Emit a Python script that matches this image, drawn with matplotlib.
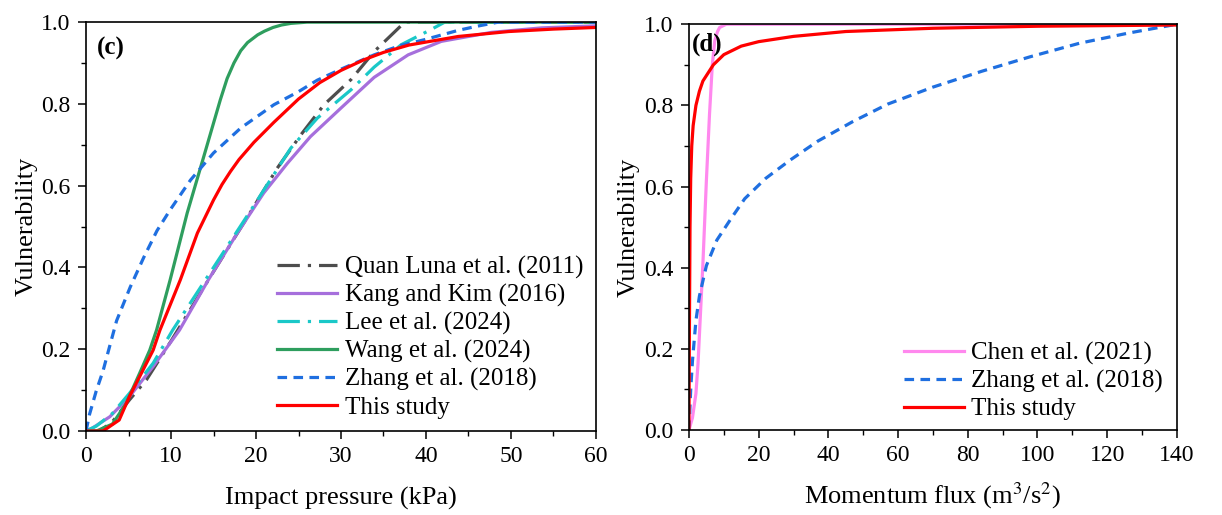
import matplotlib
matplotlib.use("Agg")
import matplotlib.pyplot as plt
from matplotlib.ticker import MultipleLocator

plt.rcParams["font.family"] = ["Liberation Serif", "DejaVu Serif"]
plt.rcParams["mathtext.fontset"] = "stix"

# ---- panel (c): vulnerability vs impact pressure (kPa) ----
quan_x = [0, 1.5, 3, 5.1, 7.1, 10, 15, 19.4, 22.5, 25.3, 28, 31.2, 33.9, 37.5, 60]
quan_v = [0, 0, 0.02, 0.076, 0.125, 0.22, 0.39, 0.537, 0.643, 0.725, 0.798, 0.86, 0.928, 1.0, 1.0]

kang_x = [0, 0.8, 2.8, 5.1, 7.9, 11, 14.4, 17.8, 20.9, 23.7, 26.4, 30, 33.9, 37.9, 41.8, 47.7, 53.6, 60]
kang_v = [0, 0.008, 0.035, 0.084, 0.158, 0.247, 0.37, 0.484, 0.582, 0.655, 0.72, 0.79, 0.865,
          0.92, 0.953, 0.975, 0.986, 0.991]

lee_x = [0, 1.2, 3.1, 5.1, 7.9, 10.2, 15, 19.8, 24.1, 27.2, 31.2, 33.9, 37.1, 40.6, 42.2, 60]
lee_v = [0, 0.012, 0.043, 0.092, 0.166, 0.247, 0.40, 0.553, 0.692, 0.765, 0.835, 0.89, 0.945,
         0.982, 1.0, 1.0]

wang_x = [0, 1.2, 3.1, 4.7, 6.3, 7.5, 8.3, 9.9, 11.9, 13.85, 15.8, 16.6, 17.4, 18.2, 19, 20.2,
          21, 22, 23, 24.1, 26, 60]
wang_v = [0, 0, 0.017, 0.067, 0.141, 0.198, 0.247, 0.37, 0.533, 0.671, 0.81, 0.862, 0.9, 0.93,
          0.95, 0.969, 0.978, 0.987, 0.993, 0.997, 1.0, 1.0]

zhang_c_x = [0, 0.4, 1.2, 2, 2.75, 3.6, 5.2, 6.8, 8.35, 9.9, 12.3, 15, 18.2, 22.1, 25, 27.2, 30,
             33.9, 37, 39.8, 43.8, 46, 48.5, 60]
zhang_c_v = [0, 0.04, 0.098, 0.147, 0.205, 0.27, 0.352, 0.425, 0.49, 0.541, 0.614, 0.68, 0.741,
             0.798, 0.83, 0.858, 0.885, 0.92, 0.943, 0.957, 0.98, 0.99, 1.0, 1.0]

this_c_x = [0, 2, 3.9, 5.1, 6.7, 7.9, 8.7, 11.1, 13.1, 15, 16, 17, 18, 19.75, 22.1, 25, 27.5, 30,
            32.7, 35, 38, 43.8, 49.7, 55, 60]
this_c_v = [0, 0, 0.027, 0.084, 0.149, 0.198, 0.247, 0.37, 0.484, 0.565, 0.603, 0.635, 0.664,
            0.706, 0.755, 0.812, 0.852, 0.882, 0.908, 0.926, 0.944, 0.965, 0.977, 0.983, 0.987]

# ---- panel (d): vulnerability vs momentum flux (m3/s2) ----
chen_x = [0, 1, 2, 2.6, 3.3, 4, 5, 5.9, 6.7, 7.4, 8.2, 8.8, 10.7, 140]
chen_v = [0, 0.03, 0.09, 0.164, 0.287, 0.41, 0.615, 0.779, 0.9, 0.959, 0.982, 0.992, 1.0, 1.0]

zhang_d_x = [0, 0.5, 1, 2, 3, 5, 8, 12, 16, 22, 29, 37, 47, 57, 70, 84, 98, 112, 126, 140]
zhang_d_v = [0, 0.1, 0.17, 0.27, 0.33, 0.405, 0.468, 0.52, 0.57, 0.62, 0.665, 0.712, 0.76, 0.803,
             0.845, 0.884, 0.92, 0.953, 0.978, 1.0]

this_d_x = [0, 0.05, 0.1, 0.2, 0.3, 0.5, 0.8, 1.2, 2, 3, 4, 5.5, 7, 10, 15, 20, 30, 45, 70, 100, 140]
this_d_v = [0, 0.1, 0.2, 0.35, 0.5, 0.62, 0.7, 0.75, 0.8, 0.835, 0.86, 0.88, 0.9, 0.925, 0.946,
            0.957, 0.97, 0.982, 0.99, 0.995, 0.998]

fig = plt.figure(figsize=(12.22, 5.15), dpi=100)
ax1 = fig.add_axes([0.0704, 0.163, 0.4173, 0.794])
ax2 = fig.add_axes([0.5638, 0.165, 0.3993, 0.788])

lw = 2.3
ax1.plot(quan_x, quan_v, color="#4d4d4d", lw=lw, dashes=(7, 2.5, 1, 2.5), label="Quan Luna et al. (2011)")
ax1.plot(kang_x, kang_v, color="#a66fdc", lw=lw, label="Kang and Kim (2016)")
ax1.plot(lee_x, lee_v, color="#1ac8c8", lw=lw, dashes=(7, 2.5, 1, 2.5), label="Lee et al. (2024)")
ax1.plot(wang_x, wang_v, color="#2e9e5e", lw=lw, label="Wang et al. (2024)")
ax1.plot(zhang_c_x, zhang_c_v, color="#1f6fe0", lw=lw, dashes=(3, 2), label="Zhang et al. (2018)")
ax1.plot(this_c_x, this_c_v, color="#ff0000", lw=lw, label="This study")

ax2.plot(chen_x, chen_v, color="#ff88ee", lw=lw, label="Chen et al. (2021)")
ax2.plot(zhang_d_x, zhang_d_v, color="#1f6fe0", lw=lw, dashes=(3, 2), label="Zhang et al. (2018)")
ax2.plot(this_d_x, this_d_v, color="#ff0000", lw=lw, label="This study")

ax1.set_xlim(0, 60)
ax1.xaxis.set_major_locator(MultipleLocator(10))
ax1.xaxis.set_minor_locator(MultipleLocator(5))
ax2.set_xlim(0, 140)
ax2.xaxis.set_major_locator(MultipleLocator(20))
ax2.xaxis.set_minor_locator(MultipleLocator(10))

for ax in (ax1, ax2):
    ax.set_ylim(0, 1.0)
    ax.yaxis.set_major_locator(MultipleLocator(0.2))
    ax.yaxis.set_minor_locator(MultipleLocator(0.1))
    ax.yaxis.set_major_formatter(plt.FormatStrFormatter("%.1f"))
    ax.tick_params(which="major", direction="out", length=6, width=1.1, labelsize=17, pad=5)
    ax.tick_params(which="minor", direction="out", length=3.5, width=1.0)
    for s in ax.spines.values():
        s.set_linewidth(1.2)
    ax.set_ylabel("Vulnerability", fontsize=19, labelpad=3)

ax1.legend(loc="lower right", frameon=False, fontsize=18, handlelength=2.4,
           handletextpad=0.3, labelspacing=0.2, borderaxespad=0.1)
ax2.legend(loc="lower right", frameon=False, fontsize=18, handlelength=2.4,
           handletextpad=0.3, labelspacing=0.2, borderaxespad=0.15,
           bbox_to_anchor=(1.0, -0.01))

ax1.set_xlabel("Impact pressure (kPa)", fontsize=19, labelpad=14)
ax2.set_xlabel("Momentum flux (m$^3$/s$^2$)", fontsize=19, labelpad=10)

ax1.text(0.022, 0.935, "(c)", transform=ax1.transAxes, fontsize=18, fontweight="bold",
         ha="left", va="center")
ax2.text(0.006, 0.95, "(d)", transform=ax2.transAxes, fontsize=18, fontweight="bold",
         ha="left", va="center")

plt.savefig("out.png", dpi=100)
